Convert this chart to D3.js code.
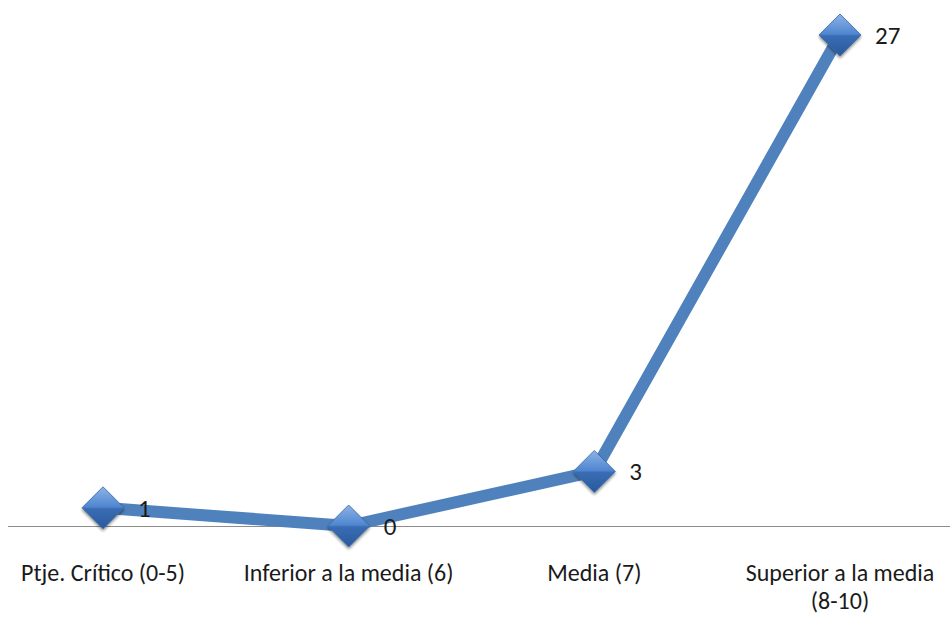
<!DOCTYPE html>
<html>
<head>
<meta charset="utf-8">
<script src="https://cdn.jsdelivr.net/npm/d3@7"></script>
<style>
  html, body { margin: 0; padding: 0; background: #ffffff; }
  svg { display: block; }
  text { font-family: Carlito, "Liberation Sans Narrow", Lato, "Noto Sans", sans-serif; fill: #1a1a1a; }
</style>
</head>
<body>
<svg id="chart" width="952" height="617"></svg>
<script>
// Students per score band
const categories = ["Ptje. Crítico (0-5)", "Inferior a la media (6)", "Media (7)", "Superior a la media (8-10)"];
const categoryLines = [["Ptje. Crítico (0-5)"], ["Inferior a la media (6)"], ["Media (7)"], ["Superior a la media", "(8-10)"]];
const values = [1, 0, 3, 27];

const svg = d3.select("#chart");

const x = d3.scalePoint().domain(categories).range([103, 840]);
const y = d3.scaleLinear().domain([0, 27]).range([526, 35]);

// Marker gradient and soft drop shadow
const defs = svg.append("defs");
const grad = defs.append("linearGradient").attr("id", "dgrad").attr("x1", 0).attr("y1", 0).attr("x2", 0).attr("y2", 1);
grad.append("stop").attr("offset", "0%").attr("stop-color", "#8db3e6");
grad.append("stop").attr("offset", "48%").attr("stop-color", "#4f86d0");
grad.append("stop").attr("offset", "52%").attr("stop-color", "#3a6db4");
grad.append("stop").attr("offset", "100%").attr("stop-color", "#28599c");
const shadow = defs.append("filter").attr("id", "shadow").attr("x", "-50%").attr("y", "-50%").attr("width", "200%").attr("height", "200%");
shadow.append("feGaussianBlur").attr("in", "SourceAlpha").attr("stdDeviation", 1.8);
shadow.append("feOffset").attr("dx", 0).attr("dy", 2).attr("result", "ob");
shadow.append("feComponentTransfer").append("feFuncA").attr("type", "linear").attr("slope", 0.45);
const m = shadow.append("feMerge");
m.append("feMergeNode");
m.append("feMergeNode").attr("in", "SourceGraphic");

// Category axis
svg.append("line")
  .attr("x1", 8).attr("x2", 950)
  .attr("y1", y(0) + 0.5).attr("y2", y(0) + 0.5)
  .attr("stroke", "#8c8c8c").attr("stroke-width", 1);

// Category labels, one text element per line
const labelRows = categories.flatMap((c, i) => categoryLines[i].map((t, j) => ({ c, t, j })));
svg.append("g").selectAll("text").data(labelRows).join("text")
  .attr("x", d => x(d.c))
  .attr("y", d => 581 + d.j * 28)
  .attr("text-anchor", "middle")
  .style("font-size", "24px")
  .text(d => d.t);

// Series line
const line = d3.line().x((d, i) => x(categories[i])).y(d => y(d));
svg.append("path")
  .datum(values)
  .attr("d", line)
  .attr("fill", "none")
  .attr("stroke", "#4f81bd")
  .attr("stroke-width", 12)
  .attr("stroke-linejoin", "round");

// Diamond markers
const r = 21;
svg.append("g").selectAll("path").data(values).join("path")
  .attr("transform", (d, i) => `translate(${x(categories[i])},${y(d)})`)
  .attr("d", `M0,${-r}L${r},0L0,${r}L${-r},0Z`)
  .attr("fill", "url(#dgrad)")
  .attr("stroke", "#3a6aa8")
  .attr("stroke-width", 0.8)
  .attr("filter", "url(#shadow)");

// Value labels
svg.append("g").selectAll("text").data(values).join("text")
  .attr("x", (d, i) => x(categories[i]) + 35)
  .attr("y", d => y(d) + 9)
  .style("font-size", "25px")
  .text(d => d);
</script>
</body>
</html>
